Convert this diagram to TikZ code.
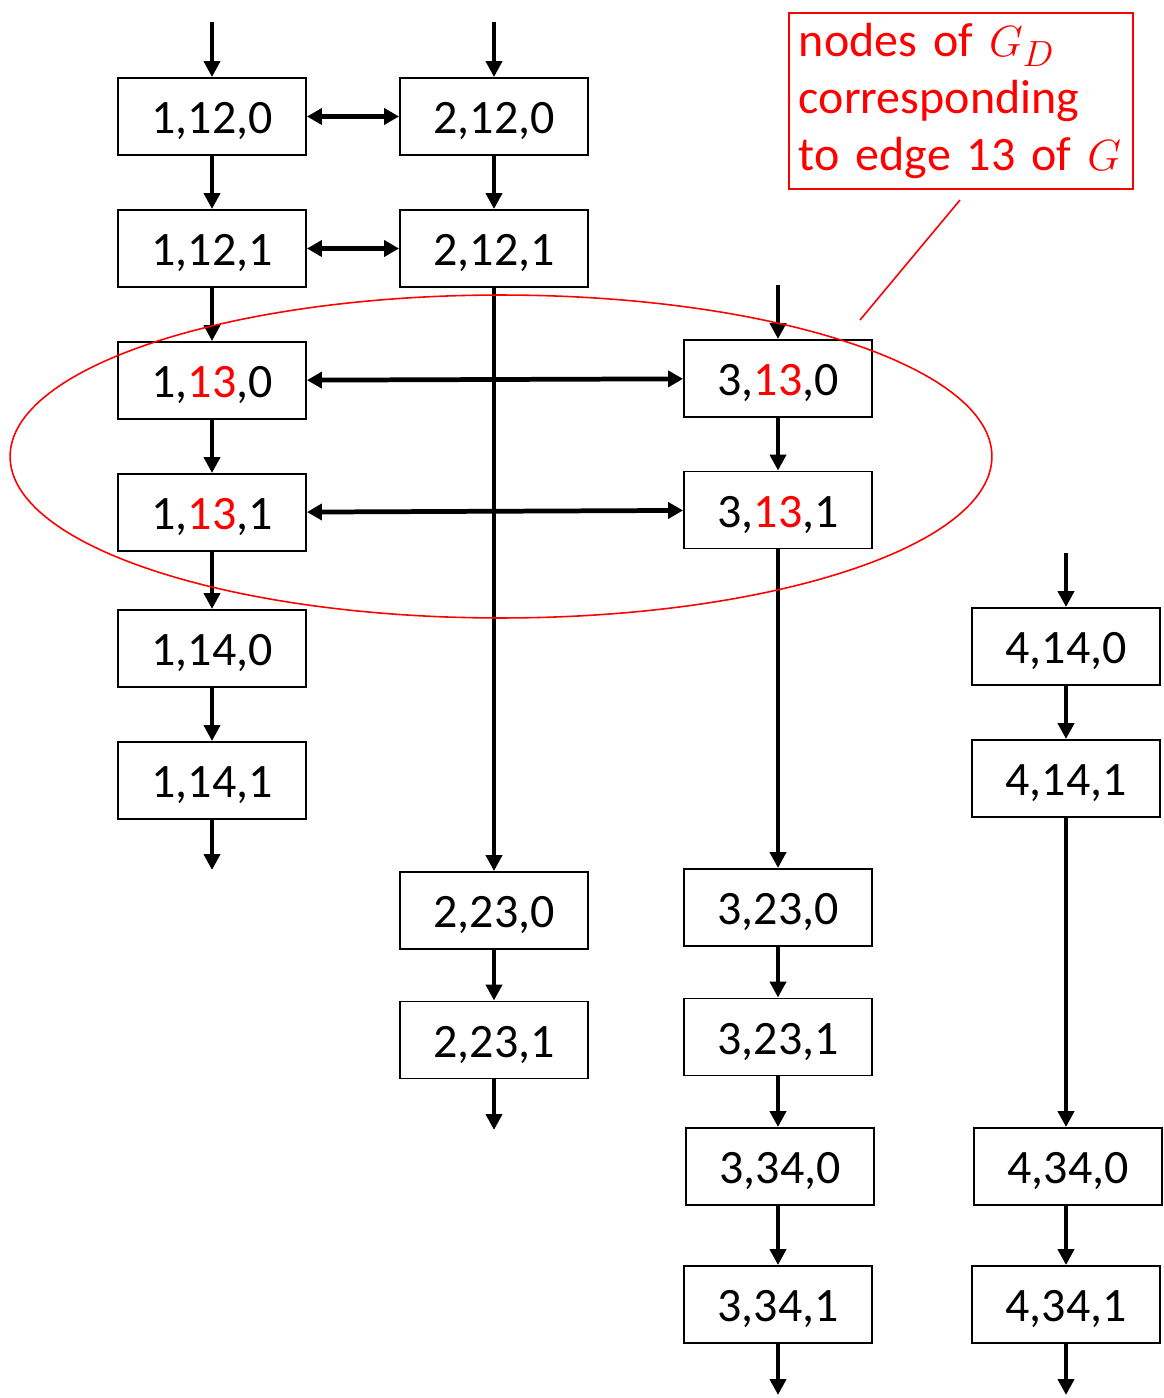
\documentclass[tikz,border=0pt]{standalone}
\usepackage{fontspec}
\setmainfont{Carlito}
\usetikzlibrary{arrows.meta}

\begin{document}
\begin{tikzpicture}[x=0.02cm, y=-0.02cm,
    box/.style={draw, line width=1.1pt, minimum width=3.76cm, minimum height=1.54cm,
        inner sep=0pt, text height=24.6pt, text depth=5.2pt,
        font=\fontsize{27.3}{32}\selectfont},
    flow/.style={line width=2.7pt, -{Triangle[length=0.32cm,width=0.32cm]}},
    swap/.style={line width=2.7pt, {Triangle[length=0.3cm,width=0.32cm]}-{Triangle[length=0.3cm,width=0.32cm]}},
    note/.style={draw=red, line width=1pt, text=red, anchor=north west, align=left,
        text width=6.48cm, minimum height=3.52cm, inner sep=0.2cm,
        font=\fontsize{27.3}{32.4}\selectfont}]
    \useasboundingbox (0,0) rectangle (1163,1398);

    % column of vertex 1
        \node[box] (a120) at (212,116.5) {1,12,0};
        \node[box] (a121) at (212,248.5) {1,12,1};
        \node[box] (a130) at (212,380.5) {1,\textcolor{red}{13},0};
        \node[box] (a131) at (212,512.5) {1,\textcolor{red}{13},1};
        \node[box] (a140) at (212,648.5) {1,14,0};
        \node[box] (a141) at (212,780.5) {1,14,1};

    % column of vertex 2
        \node[box] (b120) at (494,116.5) {2,12,0};
        \node[box] (b121) at (494,248.5) {2,12,1};
        \node[box] (b230) at (494,910.5) {2,23,0};
        \node[box] (b231) at (494,1040) {2,23,1};

    % column of vertex 3
        \node[box] (c130) at (778,378.5) {3,\textcolor{red}{13},0};
        \node[box] (c131) at (778,510) {3,\textcolor{red}{13},1};
        \node[box] (c230) at (778,907.5) {3,23,0};
        \node[box] (c231) at (778,1037) {3,23,1};
        \node[box] (c340) at (780,1166.5) {3,34,0};
        \node[box] (c341) at (778,1304.5) {3,34,1};

    % column of vertex 4
        \node[box] (d140) at (1066,646.5) {4,14,0};
        \node[box] (d141) at (1066,778.5) {4,14,1};
        \node[box] (d340) at (1068,1166.5) {4,34,0};
        \node[box] (d341) at (1066,1304.5) {4,34,1};

    % free ends of the chains
        \coordinate (ina) at (212,22);
        \coordinate (inb) at (494,22);
        \coordinate (inc) at (778,285);
        \coordinate (ind) at (1066,553);
        \coordinate (outa) at (212,870);
        \coordinate (outb) at (494,1130);
        \coordinate (outc) at (778,1395);
        \coordinate (outd) at (1066,1395);

    % vertical arrows
        \draw[flow] (ina) -- (a120);
        \draw[flow] (a120) -- (a121);
        \draw[flow] (a121) -- (a130);
        \draw[flow] (a130) -- (a131);
        \draw[flow] (a131) -- (a140);
        \draw[flow] (a140) -- (a141);
        \draw[flow] (a141) -- (outa);

        \draw[flow] (inb) -- (b120);
        \draw[flow] (b120) -- (b121);
        \draw[flow] (b121) -- (b230);
        \draw[flow] (b230) -- (b231);
        \draw[flow] (b231) -- (outb);

        \draw[flow] (inc) -- (c130);
        \draw[flow] (c130) -- (c131);
        \draw[flow] (c131) -- (c230);
        \draw[flow] (c230) -- (c231);
        \draw[flow] (c231) -- (c231 |- c340.north);
        \draw[flow] (c340.south -| c341) -- (c341);
        \draw[flow] (c341) -- (outc);

        \draw[flow] (ind) -- (d140);
        \draw[flow] (d140) -- (d141);
        \draw[flow] (d141) -- (d141 |- d340.north);
        \draw[flow] (d340.south -| d341) -- (d341);
        \draw[flow] (d341) -- (outd);

    % horizontal arrows
        \draw[swap] (a120) -- (b120);
        \draw[swap] (a121) -- (b121);
        \draw[swap] (a130) -- (c130);
        \draw[swap] (a131) -- (c131);

    % nodes of edge 13 and the note
        \draw[red, line width=0.9pt] (501,456.5) ellipse [x radius=9.82cm, y radius=3.23cm];
        \node[note] (lbl) at (788,12) {nodes of $G_D$\\corresponding\\to edge 13 of $G$};
        \coordinate (ptr) at (960,200);
        \coordinate (tip) at (860,320);
        \draw[red, line width=0.9pt] (ptr) -- (tip);

\end{tikzpicture}
\end{document}
